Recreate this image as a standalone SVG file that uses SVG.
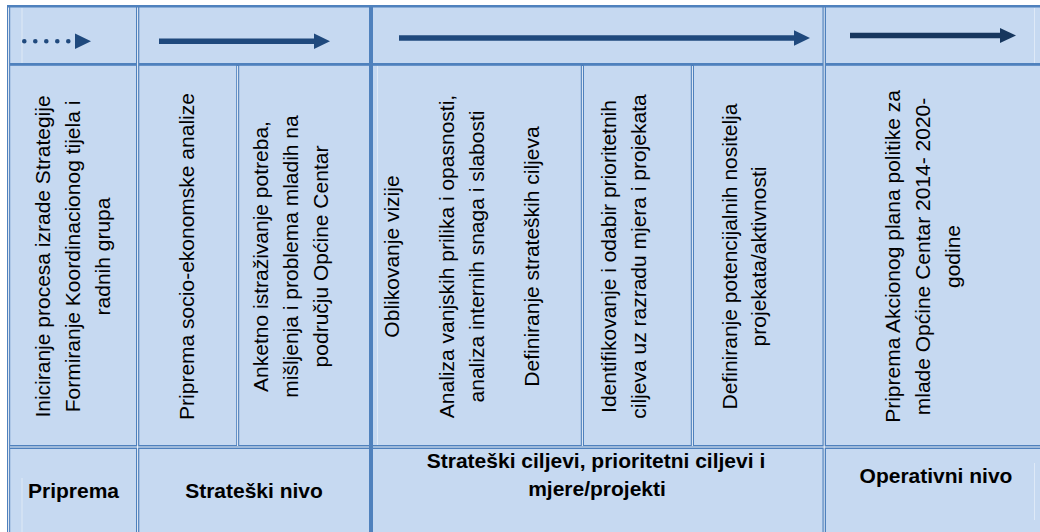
<svg xmlns="http://www.w3.org/2000/svg" width="1040" height="532" viewBox="0 0 1040 532">
<style>
.cell{fill:#C6D9F1}
.b{fill:#4F81BD}
.w{stroke:#FFFFFF;stroke-width:0.9}
.faint{stroke:#FFFFFF;stroke-width:0.8;opacity:0.55}
.t{font-family:"Liberation Sans",Arial,sans-serif;font-size:21px;fill:#000}
.tb{font-family:"Liberation Sans",Arial,sans-serif;font-size:21px;font-weight:bold;fill:#000;text-anchor:middle}
.v{text-anchor:middle}
.arr{stroke:#1F497D;stroke-width:5.5;fill:none}
.arr2{stroke:#17375E;stroke-width:5.5;fill:none}
</style>
<defs>
<marker id="head" markerUnits="userSpaceOnUse" markerWidth="16" markerHeight="16" refX="0" refY="0" orient="auto" overflow="visible">
<path d="M-1,-7.8 L15,0 L-1,7.8 z" fill="#1F497D"/>
</marker>
<marker id="head2" markerUnits="userSpaceOnUse" markerWidth="16" markerHeight="16" refX="0" refY="0" orient="auto" overflow="visible">
<path d="M-1,-7.5 L15,0 L-1,7.5 z" fill="#17375E"/>
</marker>
</defs>
<rect width="1040" height="532" fill="#FFFFFF"/>

<g id="top-priprema"><rect class="cell" x="8" y="6" width="130" height="59"/></g>
<g id="top-strateski"><rect class="cell" x="137" y="6" width="234" height="59"/></g>
<g id="top-ciljevi"><rect class="cell" x="371" y="6" width="454" height="59"/></g>
<g id="top-operativni"><rect class="cell" x="824" y="6" width="216" height="59"/></g>

<g id="iniciranje">
<rect class="cell" x="8" y="64" width="130" height="383"/>
<text class="t v" transform="translate(50,256.5) rotate(-90)"><tspan x="0" y="0">Iniciranje procesa izrade Strategije</tspan><tspan x="0" y="30">Formiranje Koordinacionog tijela i</tspan><tspan x="0" y="60">radnih grupa</tspan></text>
</g>
<g id="socio-ekonomska">
<rect class="cell" x="137" y="64" width="101" height="383"/>
<text class="t v" transform="translate(194,256.5) rotate(-90)">Priprema socio-ekonomske analize</text>
</g>
<g id="anketno">
<rect class="cell" x="237" y="64" width="134" height="383"/>
<text class="t v" transform="translate(268,256.5) rotate(-90)"><tspan x="0" y="0">Anketno istraživanje potreba,</tspan><tspan x="0" y="30">mišljenja i problema mladih na</tspan><tspan x="0" y="60">području Općine Centar</tspan></text>
</g>
<g id="vizija">
<rect class="cell" x="371" y="64" width="212" height="383"/>
<text class="t v" transform="translate(399,256.5) rotate(-90)"><tspan x="0" y="0">Oblikovanje vizije</tspan><tspan x="0" y="55">Analiza vanjskih prilika i opasnosti,</tspan><tspan x="0" y="85">analiza internih snaga i slabosti</tspan><tspan x="0" y="140">Definiranje strateških ciljeva</tspan></text>
</g>
<g id="prioritetni">
<rect class="cell" x="582" y="64" width="111" height="383"/>
<text class="t v" transform="translate(616,256.5) rotate(-90)"><tspan x="0" y="0">Identifikovanje i odabir prioritetnih</tspan><tspan x="0" y="30">ciljeva uz razradu mjera i projekata</tspan></text>
</g>
<g id="nositelji">
<rect class="cell" x="692" y="64" width="133" height="383"/>
<text class="t v" transform="translate(737,256.5) rotate(-90)"><tspan x="0" y="0">Definiranje potencijalnih nositelja</tspan><tspan x="0" y="29">projekata/aktivnosti</tspan></text>
</g>
<g id="akcioni-plan">
<rect class="cell" x="824" y="64" width="216" height="383"/>
<text class="t v" transform="translate(900,256.5) rotate(-90)"><tspan x="0" y="0">Priprema Akcionog plana politike za</tspan><tspan x="0" y="30">mlade Općine Centar 2014- 2020-</tspan><tspan x="0" y="60">godine</tspan></text>
</g>

<g id="label-priprema">
<rect class="cell" x="8" y="447" width="130" height="85"/>
<text class="tb" x="73.5" y="498">Priprema</text>
</g>
<g id="label-strateski-nivo">
<rect class="cell" x="137" y="447" width="234" height="85"/>
<text class="tb" x="254" y="498">Strateški nivo</text>
</g>
<g id="label-ciljevi">
<rect class="cell" x="371" y="447" width="454" height="85"/>
<text class="tb" x="596" y="468">Strateški ciljevi, prioritetni ciljevi i</text>
<text class="tb" x="597" y="496">mjere/projekti</text>
</g>
<g id="label-operativni">
<rect class="cell" x="824" y="447" width="216" height="85"/>
<text class="tb" x="936" y="483">Operativni nivo</text>
</g>

<g id="grid">
<rect class="b" x="7" y="5" width="1033" height="2.5"/>
<rect class="b" x="7" y="63" width="1033" height="2.8"/>
<rect class="b" x="7" y="445" width="1033" height="4"/>
<rect class="b" x="7" y="5" width="3.2" height="527"/>
<rect class="b" x="136" y="5" width="3.3" height="527"/>
<rect class="b" x="236.2" y="65" width="3" height="383"/>
<rect class="b" x="580.8" y="65" width="3.2" height="383"/>
<rect class="b" x="690.8" y="65" width="3.2" height="383"/>
<rect class="b" x="822.5" y="5" width="3.5" height="527"/>
<line class="w" x1="10" y1="447" x2="1040" y2="447"/>
<line class="w" x1="8.6" y1="7.5" x2="8.6" y2="532"/>
<line class="w" x1="137.6" y1="7.5" x2="137.6" y2="532"/>
<line class="w" x1="237.6" y1="66" x2="237.6" y2="446"/>
<line class="w" x1="582.4" y1="66" x2="582.4" y2="446"/>
<line class="w" x1="692.4" y1="66" x2="692.4" y2="446"/>
<line class="w" x1="824.2" y1="7.5" x2="824.2" y2="532"/>
<rect class="b" x="369" y="5" width="4" height="527"/>
<line class="faint" x1="22" y1="8" x2="22" y2="63"/>
<line class="faint" x1="22" y1="478" x2="22" y2="532"/>
<line class="faint" x1="377.5" y1="66" x2="377.5" y2="445"/>
<line class="faint" x1="1034.5" y1="8" x2="1034.5" y2="63"/>
<line class="faint" x1="1034.5" y1="463" x2="1034.5" y2="520"/>
</g>

<g id="connectors">
<line x1="24.3" y1="41.3" x2="76" y2="41.3" stroke="#1F497D" stroke-width="4.6" stroke-linecap="round" stroke-dasharray="0 11" marker-end="url(#head)"/>
<line class="arr" x1="159" y1="41.3" x2="315" y2="41.3" marker-end="url(#head)"/>
<line class="arr" x1="399" y1="38" x2="795" y2="38" marker-end="url(#head)"/>
<line class="arr2" x1="850" y1="35.5" x2="1001" y2="35.5" marker-end="url(#head2)"/>
</g>
</svg>
